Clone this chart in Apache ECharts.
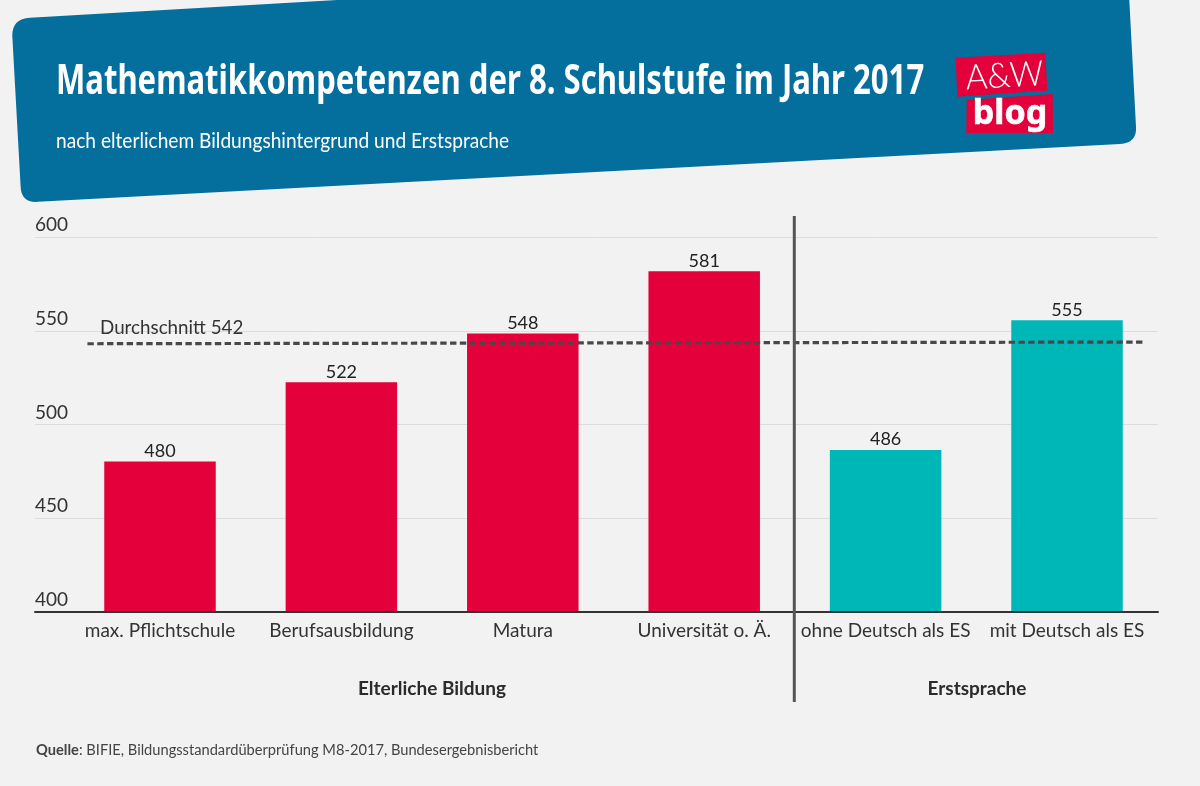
<!DOCTYPE html>
<html><head><meta charset="utf-8">
<style>html,body{margin:0;padding:0;background:#f2f2f2}#c{width:1200px;height:786px}</style>
<script src="https://cdn.jsdelivr.net/npm/echarts@6/dist/echarts.min.js"></script>
</head><body><div id="c"></div>
<script>
const titleText = 'Mathematikkompetenzen der 8. Schulstufe im Jahr 2017';
const subtitleText = 'nach elterlichem Bildungshintergrund und Erstsprache';
const categories = ['max. Pflichtschule','Berufsausbildung','Matura','Universität o. Ä.','ohne Deutsch als ES','mit Deutsch als ES'];
const bildungValues = [480,522,548,581,null,null];
const spracheValues = [null,null,null,null,486,555];
const averageLabel = 'Durchschnitt 542';
const averageLine = [[0.1,542.5],[5.93,543.4]];
const groupLabels = ['Elterliche Bildung','Erstsprache'];
const sourceBold = 'Quelle', sourceRest = ': BIFIE, Bildungsstandardüberprüfung M8-2017, Bundesergebnisbericht';
const F = 'Lato, "Noto Sans", sans-serif';
echarts.graphic.registerShape('headerBanner', echarts.graphic.extendPath('M12.3,36 Q12,18.8 30,17.8 L337,0 L1129.3,0 L1136,127 Q1137,143 1120,144 L38,201.8 Q21,203 20.6,186 Z', {}));
const chart = echarts.init(document.getElementById('c'), null, {renderer:'canvas'});
const barLabel = {show:true, position:'top', distance:1.5, fontFamily:F, fontSize:18, color:'#222', formatter:p=>p.value==null?'':p.value};
chart.setOption({
  animation:false, backgroundColor:'#f2f2f2',
  grid:[{left:35,width:1123,top:237,height:375},{left:69.3,width:1088.4,top:235.5,height:376.5}],
  xAxis:[
    {type:'category',gridIndex:1,data:categories,z:1,axisLine:{show:false},axisTick:{show:false},
     axisLabel:{interval:0,margin:9,fontFamily:F,fontSize:19,color:'#333'}},
    {type:'value',gridIndex:1,min:0,max:6,show:false},
    {type:'value',gridIndex:0,min:0,max:1,axisLine:{show:true,lineStyle:{color:'#333',width:2}},axisTick:{show:false},axisLabel:{show:false},splitLine:{show:false},z:5}
  ],
  yAxis:[
    {type:'value',gridIndex:0,min:400,max:600,interval:50,axisLine:{show:false},axisTick:{show:false},
     axisLabel:{inside:true,margin:0,align:'left',verticalAlign:'bottom',fontFamily:F,fontSize:19,color:'#333',lineHeight:24},
     splitLine:{show:true,lineStyle:{color:'#dcdcdc',width:1}}},
    {type:'value',gridIndex:1,min:400,max:600,interval:50,show:false,splitLine:{show:false}}
  ],
  series:[
    {name:groupLabels[0],type:'bar',xAxisIndex:0,yAxisIndex:1,data:bildungValues,barWidth:111.5,barGap:'-100%',itemStyle:{color:'#e4003a'},label:barLabel},
    {name:groupLabels[1],type:'bar',xAxisIndex:0,yAxisIndex:1,data:spracheValues,barWidth:111.5,barGap:'-100%',itemStyle:{color:'#00b7b8'},label:barLabel},
    {name:'Durchschnitt',type:'line',xAxisIndex:1,yAxisIndex:1,data:averageLine,symbol:'none',z:6,silent:true,
     lineStyle:{color:'#484848',width:3.2,type:[6.4,3.4]}}
  ],
  graphic:[
    {type:'headerBanner',z:10,style:{fill:'#046e9d'}},
    {type:'text',z:11,x:56,y:82,scaleX:0.74,style:{text:titleText,fontFamily:'"Noto Sans",sans-serif',fontWeight:'bold',fontSize:42,fill:'#fff',verticalAlign:'middle'}},
    {type:'text',z:11,x:56,y:141,scaleX:0.87,style:{text:subtitleText,fontFamily:F,fontSize:22,fill:'#fff',verticalAlign:'middle'}},
    {type:'polygon',z:11,shape:{points:[[955.7,57.7],[1045.3,52.7],[1047.3,90.5],[957.3,96.7]]},style:{fill:'#e4003a'}},
    {type:'polygon',z:11,shape:{points:[[966.7,100],[1052.7,94],[1053,133],[966.3,133]]},style:{fill:'#e4003a'}},
    {type:'text',z:12,x:1004.5,y:76,rotation:0.055,scaleX:0.95,style:{text:'A&W',fontFamily:F,fontWeight:300,fontSize:35,fill:'#fff',align:'center',verticalAlign:'middle'}},
    {type:'text',z:12,x:1010,y:114,style:{text:'blog',fontFamily:'"Noto Sans",sans-serif',fontWeight:'bold',fontSize:34,fill:'#fff',stroke:'#fff',lineWidth:0.6,align:'center',verticalAlign:'middle'}},
    {type:'line',z:8,shape:{x1:794.3,y1:216,x2:794.3,y2:702},style:{stroke:'#555',lineWidth:3}},
    {type:'text',z:8,x:100,y:328,style:{text:averageLabel,fontFamily:F,fontSize:18.8,fill:'#333',verticalAlign:'middle'}},
    {type:'text',z:8,x:432,y:689,style:{text:groupLabels[0],fontFamily:F,fontWeight:'bold',fontSize:19,fill:'#2b2b2b',align:'center',verticalAlign:'middle'}},
    {type:'text',z:8,x:977,y:689,style:{text:groupLabels[1],fontFamily:F,fontWeight:'bold',fontSize:19,fill:'#2b2b2b',align:'center',verticalAlign:'middle'}},
    {type:'text',z:8,x:36,y:750,scaleX:0.945,style:{text:'{b|'+sourceBold+'}{r|'+sourceRest+'}',verticalAlign:'middle',
      rich:{b:{fontFamily:F,fontWeight:'bold',fontSize:15.5,fill:'#444'},r:{fontFamily:F,fontSize:15.5,fill:'#444'}}}}
  ]
});
</script></body></html>
